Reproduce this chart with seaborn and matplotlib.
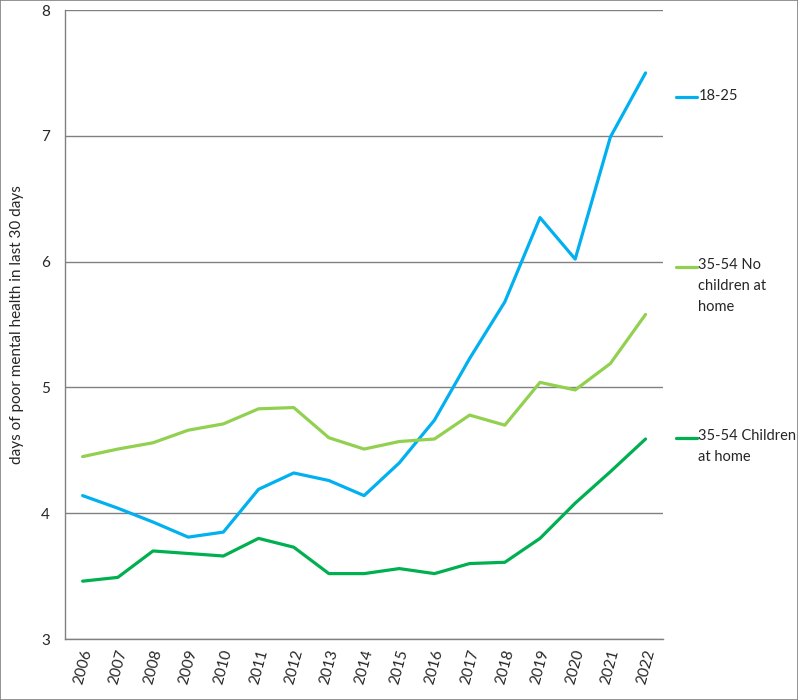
import pandas as pd
import matplotlib.pyplot as plt
import seaborn as sns
import numpy as np
from matplotlib.lines import Line2D
from matplotlib.patches import Rectangle

years = list(range(2006, 2023))
age_18_25 = [4.14, 4.04, 3.93, 3.81, 3.85, 4.19, 4.32, 4.26, 4.14, 4.40,
             4.74, 5.23, 5.68, 6.35, 6.02, 6.99, 7.50]
no_children = [4.45, 4.51, 4.56, 4.66, 4.71, 4.83, 4.84, 4.60, 4.51, 4.57,
               4.59, 4.78, 4.70, 5.04, 4.98, 5.19, 5.58]
with_children = [3.46, 3.49, 3.70, 3.68, 3.66, 3.80, 3.73, 3.52, 3.52, 3.56,
                 3.52, 3.60, 3.61, 3.80, 4.08, 4.33, 4.59]
series_names = ["18-25", "35-54 No\nchildren at\nhome", "35-54 Children\nat home"]
colors = ["#00B0F0", "#92D050", "#00B050"]

df = pd.DataFrame({
    "year": years * 3,
    "value": age_18_25 + no_children + with_children,
    "group": [series_names[0]] * 17 + [series_names[1]] * 17 + [series_names[2]] * 17,
})

sns.set_style("white")
plt.rcParams["font.family"] = ["Lato", "DejaVu Sans"]

fig = plt.figure(figsize=(7.98, 7.0), dpi=100)
ax = fig.add_axes([0.0815, 0.0871, 0.7495, 0.8986])

sns.lineplot(data=df, x="year", y="value", hue="group", palette=colors,
             linewidth=2.3, ax=ax, legend=False)

# axes and grid
ax.set_ylim(3, 8)
ax.set_xlim(2005.5, 2022.5)
ax.set_yticks([3, 4, 5, 6, 7, 8])
ax.set_yticklabels(["3", "4", "5", "6", "7", "8"], fontsize=11)
ax.set_xticks(years)
ax.set_xticklabels([str(y) for y in years], rotation=75, fontsize=11)
ax.set_xticks(np.arange(2005.5, 2023, 1), minor=True)
ax.tick_params(axis="x", which="major", length=0, pad=6)
ax.tick_params(axis="x", which="minor", length=5, color="#808080", width=1)
ax.tick_params(axis="y", length=5, color="#808080", width=1, pad=6)
ax.grid(axis="y", color="#808080", linewidth=1)
ax.set_axisbelow(True)
for s in ["top", "right"]:
    ax.spines[s].set_visible(False)
for s in ["left", "bottom"]:
    ax.spines[s].set_color("#808080")
    ax.spines[s].set_linewidth(1)
ax.set_xlabel("")
ax.set_ylabel("days of poor mental health in last 30 days", fontsize=11, labelpad=12)

# legend on the right, handle aligned with first text line
legend_y = [0.861, 0.619, 0.375]
for name, col, yy in zip(series_names, colors, legend_y):
    fig.add_artist(Line2D([0.847, 0.873], [yy, yy], color=col, linewidth=2.3))
    fig.text(0.875, yy + 0.0125, name, fontsize=10.5, va="top", ha="left",
             linespacing=1.62)

# border around the whole picture
fig.add_artist(Rectangle((0.0006, 0.0007), 0.9988, 0.9986, transform=fig.transFigure,
                         fill=False, edgecolor="#808080", linewidth=1.2))

fig.savefig("out.png", dpi=100)
